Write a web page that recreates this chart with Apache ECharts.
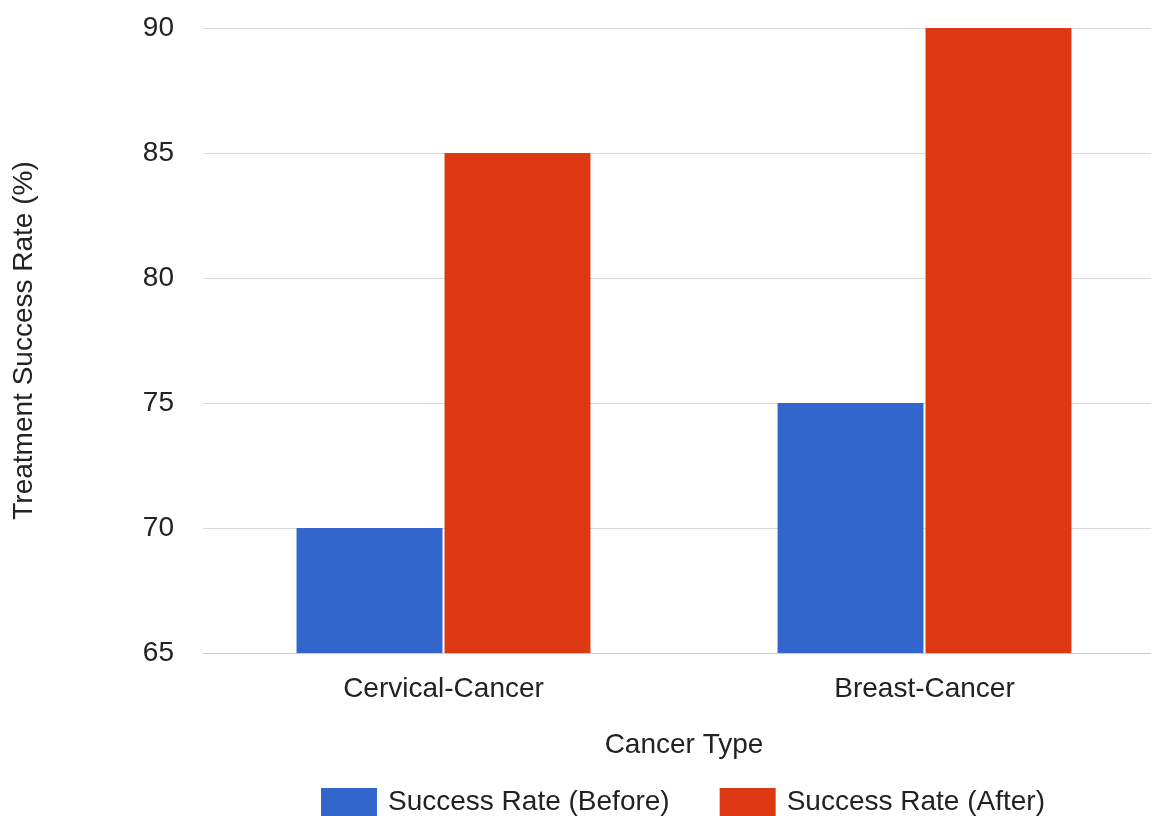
<!DOCTYPE html>
<html>
<head>
<meta charset="utf-8">
<script src="https://cdn.jsdelivr.net/npm/echarts@6/dist/echarts.min.js"></script>
<style>
html,body{margin:0;padding:0;background:#fff;overflow:hidden;}
#chart{width:1168px;height:816px;}
</style>
</head>
<body>
<div id="chart"></div>
<script>
const categories = ['Cervical-Cancer', 'Breast-Cancer'];
const seriesNames = ['Success Rate (Before)', 'Success Rate (After)'];
const beforeValues = [70, 75];
const afterValues = [85, 90];
const yTicks = [65, 70, 75, 80, 85, 90];

const FONT = '"Liberation Sans", Arial, sans-serif';
const TEXT = '#222222';

const chart = echarts.init(document.getElementById('chart'), null, {renderer: 'canvas'});
chart.setOption({
  backgroundColor: '#ffffff',
  animation: false,
  textStyle: {fontFamily: FONT},
  grid: {left: 203, top: 28, width: 962, height: 625, containLabel: false},
  legend: {
    data: seriesNames,
    left: 316,
    top: 783,
    itemWidth: 56,
    itemHeight: 28,
    itemGap: 50,
    icon: 'rect',
    textStyle: {fontFamily: FONT, fontSize: 28, color: TEXT, padding: [0, 0, 0, 6]}
  },
  xAxis: {
    type: 'category',
    data: categories,
    name: 'Cancer Type',
    nameLocation: 'middle',
    nameGap: 78,
    nameTextStyle: {fontFamily: FONT, fontSize: 28, color: TEXT},
    axisLine: {show: true, lineStyle: {color: '#cccccc', width: 1}},
    axisTick: {show: false},
    axisLabel: {fontFamily: FONT, fontSize: 28, color: TEXT, margin: 22}
  },
  yAxis: {
    type: 'value',
    min: yTicks[0],
    max: yTicks[yTicks.length - 1],
    interval: 5,
    name: 'Treatment Success Rate (%)',
    nameLocation: 'middle',
    nameRotate: 90,
    nameGap: 165,
    nameTextStyle: {fontFamily: FONT, fontSize: 28, color: TEXT},
    axisLine: {show: false},
    axisTick: {show: false},
    axisLabel: {fontFamily: FONT, fontSize: 28, color: TEXT, margin: 29},
    splitLine: {show: true, lineStyle: {color: '#d9d9d9', width: 1}}
  },
  series: [
    {
      name: seriesNames[0],
      type: 'bar',
      data: beforeValues,
      itemStyle: {color: '#3366cc'},
      barGap: '1.4%',
      barCategoryGap: '38.9%'
    },
    {
      name: seriesNames[1],
      type: 'bar',
      data: afterValues,
      itemStyle: {color: '#dc3912'},
      barGap: '1.4%',
      barCategoryGap: '38.9%'
    }
  ]
});
</script>
</body>
</html>
